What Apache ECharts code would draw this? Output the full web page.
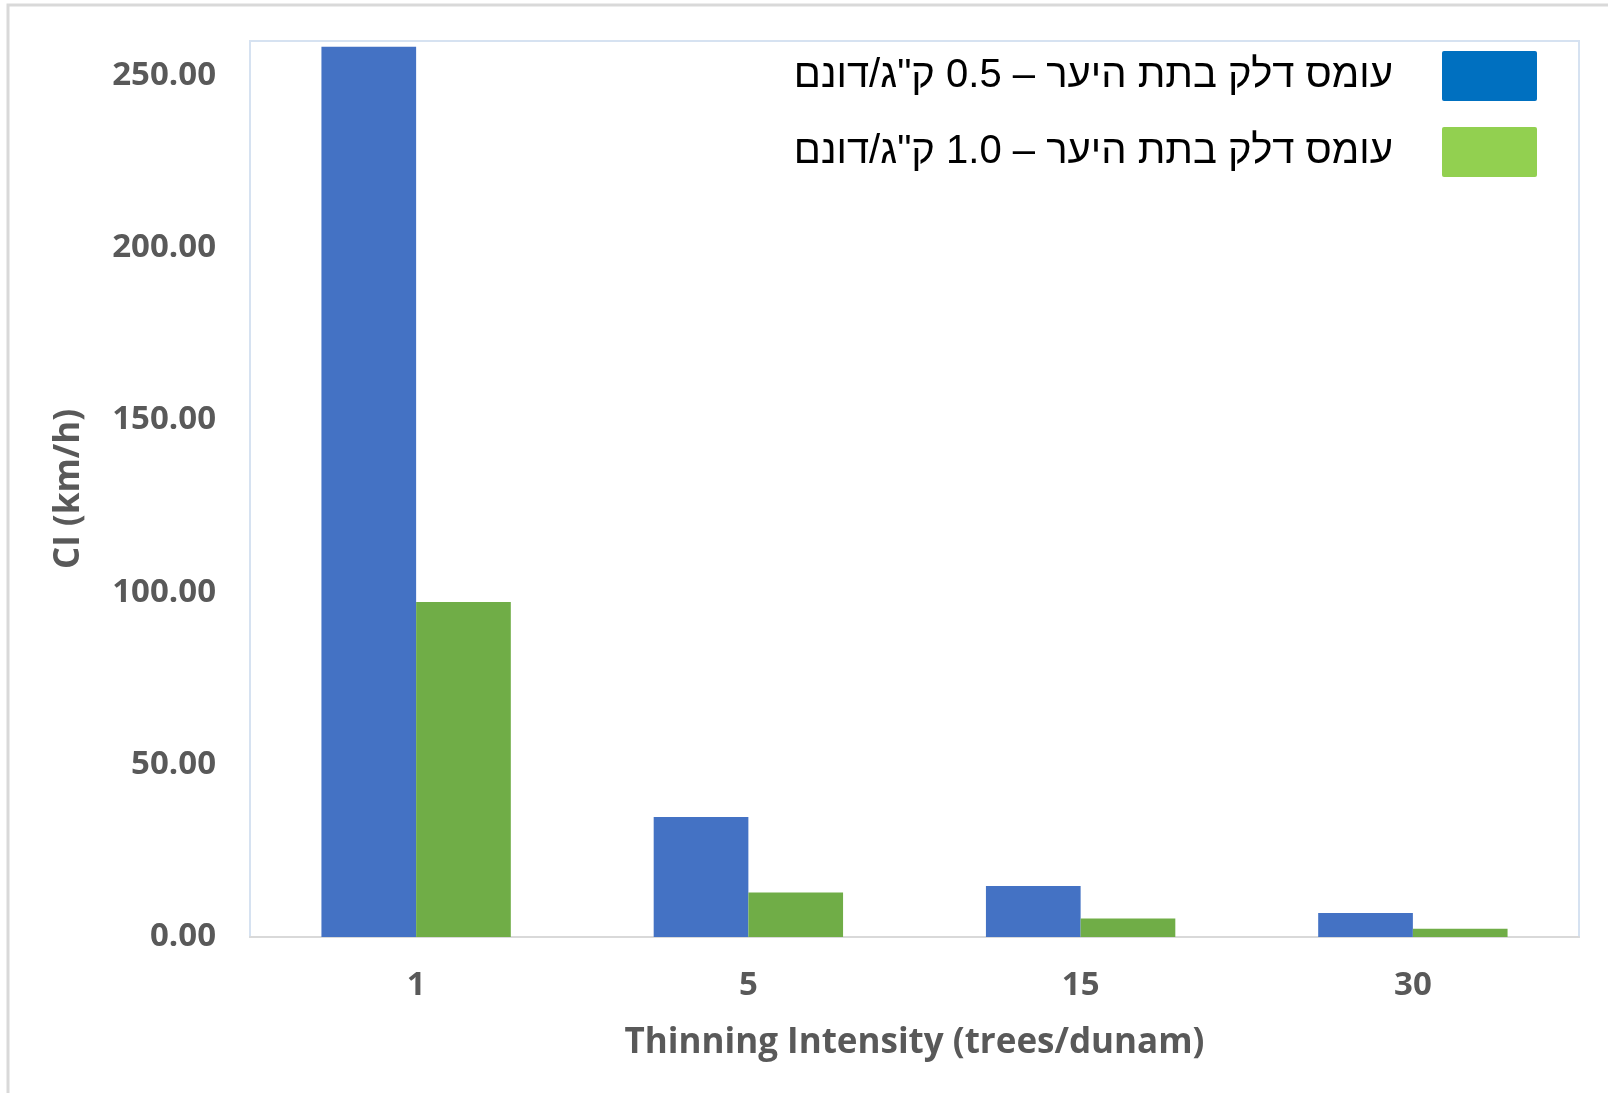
<!DOCTYPE html>
<html>
<head>
<meta charset="utf-8">
<style>
  html, body { margin: 0; padding: 0; background: #ffffff; }
  #chart { width: 1608px; height: 1093px; }
</style>
<script src="https://cdn.jsdelivr.net/npm/echarts@6/dist/echarts.min.js"></script>
</head>
<body>
<div id="chart"></div>
<script>
// Thinning intensity categories (trees per dunam)
const categories = ['1', '5', '15', '30'];

// Crown index (km/h) for the two understorey fuel loads
const seriesLow = [258.3, 34.8, 14.8, 7.0];   // 0.5 kg/dunam
const seriesHigh = [97.2, 12.9, 5.4, 2.4];    // 1.0 kg/dunam

const nameLow = 'עומס דלק בתת היער – 0.5 ק"ג/דונם';
const nameHigh = 'עומס דלק בתת היער – 1.0 ק"ג/דונם';

const chart = echarts.init(document.getElementById('chart'), null, { renderer: 'canvas' });

const axisFont = {
  fontFamily: '"Open Sans", "DejaVu Sans", sans-serif',
  fontWeight: 'bold',
  color: '#595959'
};

// legend swatch: rectangle with slightly rounded corners
const swatch = 'path://M2,0 H93 Q95,0 95,2 V48 Q95,50 93,50 H2 Q0,50 0,48 V2 Q0,0 2,0 Z';

chart.setOption({
  backgroundColor: '#ffffff',
  animation: false,
  graphic: [
    {
      type: 'polyline',
      shape: { points: [[8, 1093], [8, 5], [1608, 5]] },
      style: { stroke: '#d9d9d9', lineWidth: 3, fill: null },
      silent: true
    }
  ],
  legend: {
    orient: 'vertical',
    right: 71,
    top: 51,
    padding: 0,
    align: 'right',
    itemWidth: 95,
    itemHeight: 50,
    itemGap: 26,
    icon: swatch,
    textStyle: {
      fontFamily: '"Liberation Sans", Arial, sans-serif',
      fontSize: 40,
      color: '#000000',
      padding: [5, 44, 0, 0]
    },
    data: [
      { name: nameLow, itemStyle: { color: '#0070C0' } },
      { name: nameHigh, itemStyle: { color: '#92D050' } }
    ]
  },
  grid: {
    left: 250,
    right: 29,
    top: 41,
    bottom: 156,
    show: true,
    borderColor: '#d6e2f1',
    borderWidth: 2,
    containLabel: false
  },
  xAxis: {
    type: 'category',
    data: categories,
    axisTick: { show: false },
    axisLine: { lineStyle: { color: '#d9d9d9', width: 2 } },
    axisLabel: Object.assign({ fontSize: 33, margin: 32 }, axisFont),
    name: 'Thinning Intensity (trees/dunam)',
    nameLocation: 'middle',
    nameGap: 89,
    nameTextStyle: Object.assign({ fontSize: 35 }, axisFont)
  },
  yAxis: {
    type: 'value',
    min: 0,
    max: 260,
    interval: 50,
    splitLine: { show: false },
    axisLine: { show: false },
    axisTick: { show: false },
    axisLabel: Object.assign({
      fontSize: 33,
      margin: 34,
      showMaxLabel: false,
      padding: [3, 0, 0, 0],
      formatter: v => v.toFixed(2)
    }, axisFont),
    name: 'CI (km/h)',
    nameLocation: 'middle',
    nameGap: 163,
    nameTextStyle: Object.assign({ fontSize: 35 }, axisFont)
  },
  series: [
    {
      name: nameLow,
      type: 'bar',
      data: seriesLow,
      barGap: '0%',
      barCategoryGap: '43%',
      itemStyle: { color: '#4472C4' }
    },
    {
      name: nameHigh,
      type: 'bar',
      data: seriesHigh,
      barGap: '0%',
      barCategoryGap: '43%',
      itemStyle: { color: '#70AD47' }
    }
  ]
});
</script>
</body>
</html>
